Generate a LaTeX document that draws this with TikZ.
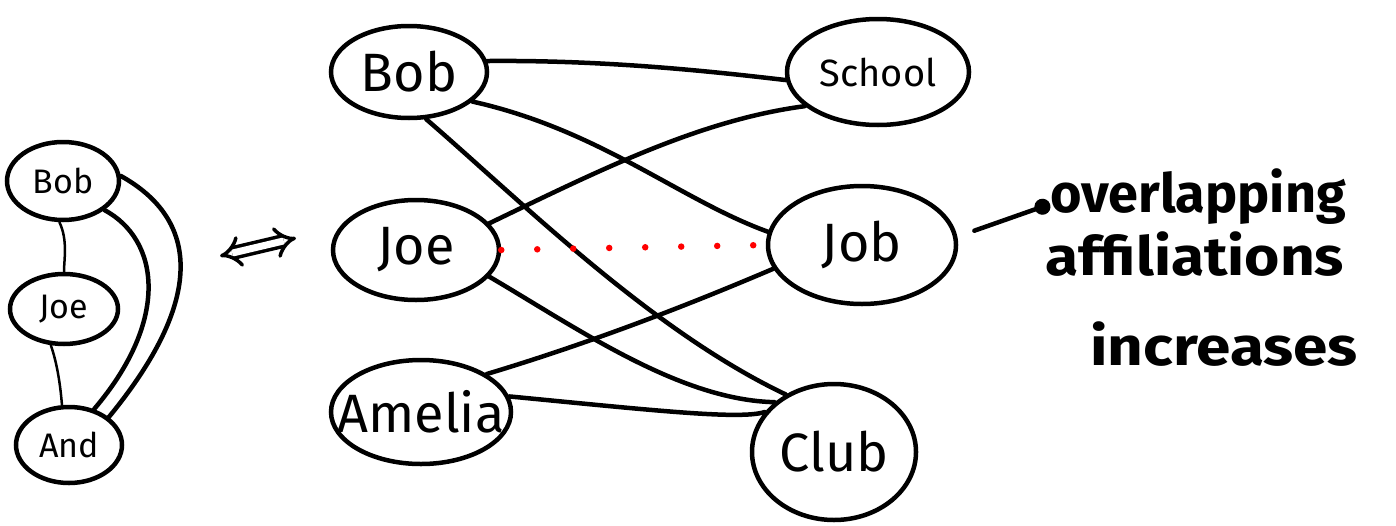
\documentclass[tikz,border=0pt]{standalone}
\usepackage{fontspec}
\setmainfont{Fira Sans}
\usetikzlibrary{shapes.geometric,arrows.meta}
\begin{document}
\begin{tikzpicture}[x=1pt,y=-1pt,
  ell/.style={ellipse,draw,line width=4.5pt,inner sep=0pt},
  bigtxt/.style={font=\fontsize{54}{56}\selectfont},
  midtxt/.style={font=\fontsize{38}{40}\selectfont},
  smalltxt/.style={font=\fontsize{34}{36}\selectfont},
  thick edge/.style={line width=4.5pt,line cap=round},
  thin edge/.style={line width=2.5pt,line cap=round},
  note/.style={font=\fontsize{54}{56}\selectfont\bfseries,anchor=base west,inner sep=0pt}]
\useasboundingbox (0,0) rectangle (1396,525);
% left graph
\node[ell,minimum width=112pt,minimum height=78pt,label={[smalltxt]center:Bob}] (sbob) at (63,181) {};
\node[ell,minimum width=108pt,minimum height=70pt,label={[smalltxt]center:Joe}] (sjoe) at (64,309) {};
\node[ell,minimum width=106pt,minimum height=76pt,label={[smalltxt]center:And}] (sand) at (69,445) {};
\draw[thin edge] (sbob.265) .. controls (68,240) and (64,260) .. (sjoe.90);
\draw[thin edge] (sjoe.250) .. controls (56,360) and (60,380) .. (sand.100);
\draw[thick edge] (sbob.5) .. controls (200,220) and (205,300) .. (sand.35);
\draw[thick edge] (sbob.-35) .. controls (160,240) and (170,320) .. (sand.55);
% double arrow
\coordinate (dl) at (220,256);
\coordinate (dr) at (296,238);
\draw[line width=3.5pt,double distance=7pt,{Implies[]}-{Implies[]}] (dl) -- (dr);
% main graph
\node[ell,minimum width=156pt,minimum height=92pt,label={[bigtxt]center:Bob}] (bob) at (409,72) {};
\node[ell,minimum width=166pt,minimum height=100pt,label={[bigtxt]center:Joe}] (joe) at (416,250) {};
\node[ell,minimum width=180pt,minimum height=104pt,label={[bigtxt]center:Amelia}] (amelia) at (421,412) {};
\node[ell,minimum width=182pt,minimum height=106pt,label={[midtxt]center:School}] (school) at (878,72) {};
\node[ell,minimum width=188pt,minimum height=118pt,label={[bigtxt]center:Job}] (job) at (862,245) {};
\node[ell,minimum width=164pt,minimum height=136pt,label={[bigtxt]center:Club}] (club) at (834,452) {};
\draw[thick edge] (bob.8) .. controls (600,60) and (700,70) .. (school.185);
\draw[thick edge] (bob.-25) .. controls (600,130) and (680,200) .. (job.172);
\draw[thick edge] (bob.-70) .. controls (520,200) and (650,330) .. (club.130);
\draw[thick edge] (joe.20) .. controls (600,170) and (700,120) .. (school.205);
\draw[thick edge] (joe.-20) .. controls (580,330) and (680,400) .. (club.140);
\draw[thick edge] (amelia.30) .. controls (600,340) and (700,300) .. (job.195);
\draw[thick edge] (amelia.10) .. controls (650,410) and (740,420) .. (club.150);
\draw[red,line width=6.5pt,line cap=round,dash pattern=on 0pt off 36pt] (joe.east) -- (job.west);
% note
\node[note] (t1) at (1050,212) {\scalebox{1.0}[1]{overlapping}};
\node[note] (t2) at (1045,275) {\scalebox{1.12}[1]{affiliations}};
\node[note] (t3) at (1090,365) {\scalebox{1.15}[1]{increases}};
\draw[line width=4.5pt,line cap=round,shorten <=18pt,-{Circle[length=16pt,width=16pt]}] (job.5) -- ([yshift=-8pt]t1.west);
\end{tikzpicture}
\end{document}
